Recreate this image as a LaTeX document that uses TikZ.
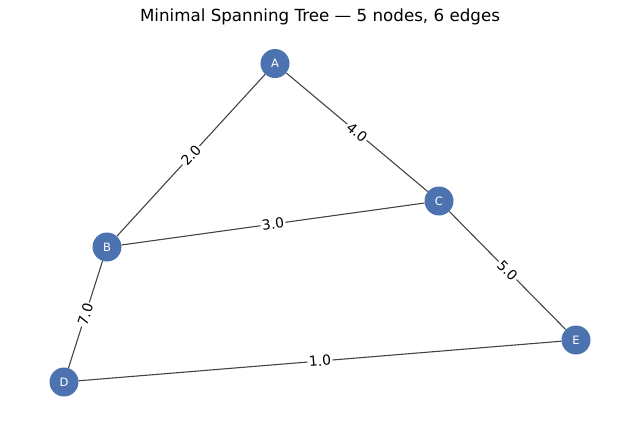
\documentclass[tikz,border=0pt]{standalone}
\usepackage{fontspec}
\setmainfont{DejaVu Sans}
\begin{document}
\begin{tikzpicture}[x=1pt,y=-1pt,
  vertex/.style={circle,fill=nodeblue,minimum size=29pt,inner sep=0pt,text=white,font=\fontsize{11.5}{12}\selectfont},
  edgeline/.style={draw=edgegray,line width=1.1pt},
  wlabel/.style={midway,sloped,fill=white,inner sep=1.5pt,text=black,font=\fontsize{13.9}{14}\selectfont}]
\definecolor{nodeblue}{HTML}{4C72B0}
\definecolor{edgegray}{HTML}{444444}
\useasboundingbox (0,0) rectangle (640,426);
\node[font=\fontsize{16.7}{18}\selectfont] (title) at (320,17) {Minimal Spanning Tree — 5 nodes, 6 edges};
\node[vertex] (A) at (275,63.5) {A};
\node[vertex] (B) at (107,247) {B};
\node[vertex] (C) at (439,201) {C};
\node[vertex] (D) at (64,382) {D};
\node[vertex] (E) at (576,340) {E};
\draw[edgeline] (A) -- (B) node[wlabel] (lAB) {2.0};
\draw[edgeline] (A) -- (C) node[wlabel] (lAC) {4.0};
\draw[edgeline] (B) -- (C) node[wlabel] (lBC) {3.0};
\draw[edgeline] (C) -- (E) node[wlabel] (lCE) {5.0};
\draw[edgeline] (B) -- (D) node[wlabel] (lBD) {7.0};
\draw[edgeline] (D) -- (E) node[wlabel] (lDE) {1.0};
\end{tikzpicture}
\end{document}
